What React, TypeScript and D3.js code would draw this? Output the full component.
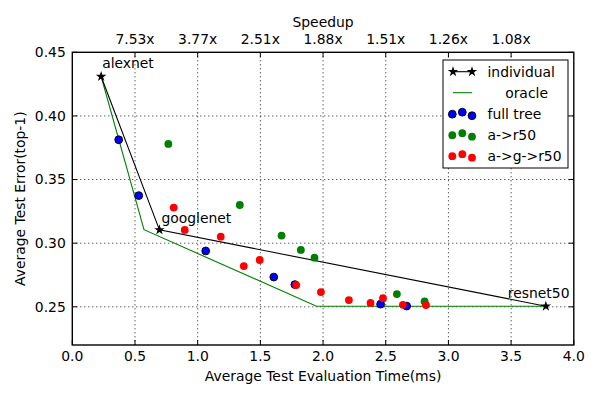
import * as d3 from "d3";

// individual networks (time ms, top-1 error)
const netNames = ["alexnet", "googlenet", "resnet50"];
const netTime = [0.23, 0.695, 3.777];
const netErr = [0.431, 0.3105, 0.2505];

// oracle envelope
const oracleTime = [0.23, 0.572, 1.948, 3.777];
const oracleErr = [0.431, 0.3106, 0.2505, 0.2505];

const fullTreeTime = [0.37, 0.53, 1.064, 1.607, 1.775, 2.459, 2.667];
const fullTreeErr = [0.3813, 0.3374, 0.2939, 0.2734, 0.2675, 0.2521, 0.2506];

const ar50Time = [0.766, 1.336, 1.669, 1.823, 1.932, 2.589, 2.81];
const ar50Err = [0.378, 0.330, 0.306, 0.2947, 0.2886, 0.26, 0.2542];

const agr50Time = [0.809, 0.897, 1.184, 1.368, 1.495, 1.786, 1.983, 2.206, 2.379, 2.478, 2.637, 2.821];
const agr50Err = [0.328, 0.3104, 0.3051, 0.282, 0.2868, 0.2671, 0.2616, 0.2553, 0.2531, 0.2568, 0.2516, 0.2514];

const xTicks = [0, 0.5, 1, 1.5, 2, 2.5, 3, 3.5, 4];
const yTicks = [0.25, 0.3, 0.35, 0.4, 0.45];
const speedupTicks = [0.5, 1, 1.5, 2, 2.5, 3, 3.5];
const speedupLabels = ["7.53x", "3.77x", "2.51x", "1.88x", "1.51x", "1.26x", "1.08x"];

const legendLabels = ["individual", "    oracle", "full tree", "a->r50", "a->g->r50"];

const W = 600;
const H = 400;
const M = { left: 72.3, right: 573.8, top: 52.3, bottom: 345 };
const FONT = "DejaVu Sans";
const FS = 13.9;

const BLUE = "#0000ff";
const GREEN = "#008000";
const RED = "#ff0000";

export default function App() {
  const x = d3.scaleLinear().domain([0, 4]).range([M.left, M.right]);
  const y = d3.scaleLinear().domain([0.22, 0.45]).range([M.bottom, M.top]);

  const line = d3
    .line<[number, number]>()
    .x((d) => x(d[0]))
    .y((d) => y(d[1]));

  const star = d3.symbol().type(d3.symbolStar).size(34)() || "";

  const netPts = netTime.map((t, i) => [t, netErr[i]] as [number, number]);
  const oraclePts = oracleTime.map((t, i) => [t, oracleErr[i]] as [number, number]);

  const dots = (times: number[], errs: number[], color: string, edge: boolean) =>
    times.map((t, i) => (
      <circle
        key={color + i}
        cx={x(t)}
        cy={y(errs[i])}
        r={3.9}
        fill={color}
        stroke={edge ? "#000" : color}
        strokeWidth={edge ? 0.9 : 0}
      />
    ));

  const labelOffsets: [number, number][] = [
    [1, -8],
    [2, -7],
    [-38, -8],
  ];

  const legX = 443;
  const legY = 60;
  const legW = 125;
  const legH = 108;
  const rowY = (i: number) => legY + 11.7 + i * 21;
  const dotOffsets = [0.5, -1.5, 2];
  const dotX = [452.3, 462.3, 472];

  return (
    <svg
      width={W}
      height={H}
      style={{ position: "absolute", left: 0, top: 0, background: "#fff" }}
      fontFamily={FONT}
      fontSize={FS}
    >
      {/* grid */}
      <g stroke="#000" strokeWidth={0.9} strokeDasharray="1,3">
        {xTicks.slice(1, -1).map((t) => (
          <line key={"gx" + t} x1={x(t)} x2={x(t)} y1={M.top} y2={M.bottom} />
        ))}
        {yTicks.slice(0, -1).map((t) => (
          <line key={"gy" + t} x1={M.left} x2={M.right} y1={y(t)} y2={y(t)} />
        ))}
      </g>

      {/* lines */}
      <path d={line(oraclePts) || ""} fill="none" stroke={GREEN} strokeWidth={1.1} />
      <path d={line(netPts) || ""} fill="none" stroke="#000" strokeWidth={1.1} />

      {dots(fullTreeTime, fullTreeErr, BLUE, true)}
      {dots(ar50Time, ar50Err, GREEN, false)}
      {dots(agr50Time, agr50Err, RED, false)}

      {netPts.map((p, i) => (
        <g key={"n" + i}>
          <path d={star} transform={`translate(${x(p[0])},${y(p[1])})`} fill="#000" />
          <text x={x(p[0]) + labelOffsets[i][0]} y={y(p[1]) + labelOffsets[i][1]}>
            {netNames[i]}
          </text>
        </g>
      ))}

      {/* ticks */}
      <g stroke="#000" strokeWidth={1}>
        {xTicks.map((t) => (
          <line key={"tx" + t} x1={x(t)} x2={x(t)} y1={M.bottom} y2={M.bottom - 5} />
        ))}
        {speedupTicks.map((t) => (
          <line key={"ts" + t} x1={x(t)} x2={x(t)} y1={M.top} y2={M.top + 5} />
        ))}
        {yTicks.map((t) => (
          <g key={"ty" + t}>
            <line x1={M.left} x2={M.left + 5} y1={y(t)} y2={y(t)} />
            <line x1={M.right} x2={M.right - 5} y1={y(t)} y2={y(t)} />
          </g>
        ))}
      </g>

      {/* frame */}
      <rect
        x={M.left}
        y={M.top}
        width={M.right - M.left}
        height={M.bottom - M.top}
        fill="none"
        stroke="#000"
        strokeWidth={1.4}
      />

      {/* tick labels */}
      {xTicks.map((t) => (
        <text key={"lx" + t} x={x(t)} y={M.bottom + 16} textAnchor="middle">
          {t.toFixed(1)}
        </text>
      ))}
      {yTicks.map((t) => (
        <text key={"ly" + t} x={M.left - 6.5} y={y(t) + 4.8} textAnchor="end">
          {t.toFixed(2)}
        </text>
      ))}
      {speedupTicks.map((t, i) => (
        <text key={"ls" + t} x={x(t)} y={M.top - 8} textAnchor="middle">
          {speedupLabels[i]}
        </text>
      ))}

      {/* axis titles */}
      <text x={(M.left + M.right) / 2} y={381} textAnchor="middle">
        Average Test Evaluation Time(ms)
      </text>
      <text x={(M.left + M.right) / 2} y={26.5} textAnchor="middle">
        Speedup
      </text>
      <text
        transform={`translate(25,${(M.top + M.bottom) / 2}) rotate(-90)`}
        textAnchor="middle"
      >
        Average Test Error(top-1)
      </text>

      {/* legend */}
      <rect x={legX} y={legY} width={legW} height={legH} fill="#fff" stroke="#000" strokeWidth={1} />
      <line x1={453} x2={472} y1={rowY(0)} y2={rowY(0)} stroke="#000" strokeWidth={1.1} />
      <path d={star} transform={`translate(453,${rowY(0)})`} fill="#000" />
      <path d={star} transform={`translate(472,${rowY(0)})`} fill="#000" />
      <line x1={453} x2={472} y1={rowY(1)} y2={rowY(1)} stroke={GREEN} strokeWidth={1.1} />
      {[BLUE, GREEN, RED].map((c, row) =>
        dotX.map((dx, j) => (
          <circle
            key={"lg" + row + j}
            cx={dx}
            cy={rowY(row + 2) + dotOffsets[j]}
            r={3.9}
            fill={c}
            stroke={c === BLUE ? "#000" : c}
            strokeWidth={c === BLUE ? 0.9 : 0}
          />
        ))
      )}
      {legendLabels.map((l, i) => (
        <text key={"lt" + i} x={487.5} y={rowY(i) + 4.8} style={{ whiteSpace: "pre" }}>
          {l}
        </text>
      ))}
    </svg>
  );
}
